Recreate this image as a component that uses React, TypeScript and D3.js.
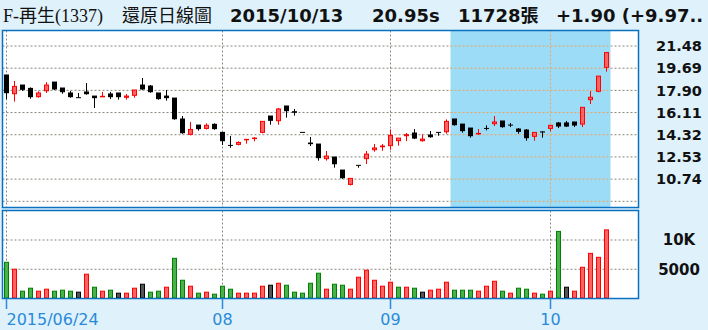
import React from "react";
import * as d3 from "d3";

// ---- data ----
const opens = [19.14,17.55,18.33,18.06,17.31,17.79,18.57,18.09,17.69,17.31,17.77,17.44,17.40,17.61,17.69,17.26,17.42,18.33,18.25,17.69,17.44,17.28,15.59,14.27,15.10,14.75,15.16,14.51,13.46,13.46,13.84,13.95,14.43,15.83,15.37,16.64,16.18,14.51,13.65,13.57,12.31,12.52,11.47,10.23,11.85,12.31,13.03,13.27,13.36,13.76,14.16,14.46,13.76,14.30,14.51,14.48,15.59,15.18,14.86,14.38,14.83,15.13,15.43,15.10,14.78,14.70,14.11,14.55,14.75,15.27,15.27,15.35,15.10,17.07,17.74,19.68];
const highs = [19.14,18.66,18.33,18.14,17.82,18.57,18.57,18.09,17.85,17.69,18.49,17.44,17.77,17.77,17.69,17.61,17.93,18.90,18.33,17.69,17.93,17.28,15.83,15.35,15.10,15.24,15.24,14.51,14.22,13.79,13.95,14.14,15.40,15.83,16.48,16.64,16.40,14.51,14.14,13.57,13.01,12.52,11.47,10.80,11.85,13.01,13.57,13.57,14.75,14.05,14.46,14.78,14.35,14.62,14.51,15.56,15.59,15.18,14.86,14.78,15.08,15.83,15.43,15.27,14.86,14.78,14.51,14.60,15.08,15.35,15.43,15.35,16.53,17.85,19.05,20.95];
const lows = [17.20,16.99,17.85,17.23,17.31,17.69,17.93,17.63,17.31,17.31,17.55,16.48,17.40,17.20,17.15,17.15,17.31,17.93,17.71,17.15,17.07,15.53,14.40,14.27,14.65,14.75,14.73,13.49,13.27,13.46,13.60,13.79,14.43,15.13,15.13,15.70,15.86,14.51,13.41,12.23,12.23,11.66,10.77,10.23,11.66,11.96,12.95,13.03,13.11,13.44,13.81,13.97,13.76,14.08,14.24,14.40,15.05,14.49,14.08,14.30,14.67,15.02,14.89,14.94,14.40,13.84,13.84,14.08,14.59,14.86,14.94,14.94,14.94,16.80,17.74,19.41];
const closes = [17.63,18.22,17.90,17.31,17.69,18.33,17.93,17.71,17.31,17.31,17.55,17.23,17.42,17.31,17.31,17.44,17.93,17.93,17.71,17.15,17.23,15.53,14.40,14.75,14.73,15.08,14.73,13.76,13.46,13.70,13.95,14.05,15.40,15.40,16.40,16.18,16.05,14.51,13.52,12.39,12.60,11.90,10.77,10.80,11.85,12.76,13.25,13.41,14.27,14.05,14.32,13.97,13.97,14.08,14.51,15.40,15.05,14.57,14.16,14.43,14.83,15.35,14.89,15.10,14.51,14.00,14.51,14.46,15.08,14.94,14.94,15.02,16.53,17.34,19.05,20.95];
const volumes = [6190,5000,1250,1760,1250,1590,1250,1420,1250,1080,4150,1930,1250,1420,910,910,1760,2440,1080,1250,1930,6870,3120,2100,910,1080,740,2100,1590,910,910,910,2100,2270,2610,2270,1080,910,2610,4320,1590,2440,2270,1590,3640,4830,3120,2100,2780,1930,1930,1760,1080,1420,1590,2780,1420,1420,1420,1250,2100,2950,1250,910,1760,1590,910,740,1250,11470,1930,1250,5340,7720,7040,11728];
const prevCloseBeforeFirst = 18.0;

const priceGrid = [21.48, 19.69, 17.9, 16.11, 14.32, 12.53, 10.74, 8.95];
const priceLabels = ["21.48", "19.69", "17.90", "16.11", "14.32", "12.53", "10.74"];
const volGrid = [10000, 5000];
const volLabels = ["10K", "5000"];
const dateTickIdx = [0, 27, 48, 68];
const dateTickLabels = ["2015/06/24", "08", "09", "10"];
const shadeFrom = 56;
const shadeTo = 75;

const titleName = "F-再生(1337)";
const titleKind = "還原日線圖";
const titleDate = "2015/10/13";
const titlePrice = "20.95s";
const titleVol = "11728張";
const titleChange = "+1.90 (+9.97..";

// ---- styles ----
const BG = "#dff2fc";
const BORDER = "#0a70c0";
const SHADE = "#9ddcf7";
const GRID = "#86867a";
const GRID_SHADE = "#f0a458";
const UP_FILL = "#ff6464";
const UP_STROKE = "#ff0000";
const VOL_GREEN_FILL = "#4cb04c";
const VOL_GREEN_STROKE = "#008000";
const VOL_BLACK_FILL = "#555555";
const AXIS_BLUE = "#2a8ad8";

export default function App() {
  const W = 708, H = 330;
  const pL = 2.5, pR = 638.5;
  const mTop = 30.5, mBot = 207.5;
  const vTop = 210.5, vBot = 298.5;

  const n = closes.length;
  const x = d3.scaleLinear().domain([0, n - 1]).range([6.5, 6.5 + 8 * (n - 1)]);
  const y = d3.scaleLinear().domain([8.95, 21.48]).range([201.3, 46]);
  const yv = d3.scaleLinear().domain([0, 10000]).range([298.5, 240]);

  const shadeX0 = x(shadeFrom - 0.5);
  const shadeX1 = x(shadeTo + 0.5);

  const dash = "2,2";

  const candles = closes.map((c, i) => {
    const o = opens[i];
    const up = c > o;
    const cx = x(i);
    const top = y(Math.max(o, c));
    const bot = y(Math.min(o, c));
    const h = Math.max(bot - top, 1);
    const col = up ? UP_STROKE : "#000";
    return (
      <g key={"c" + i}>
        <line x1={cx} x2={cx} y1={y(highs[i])} y2={y(lows[i])} stroke={col} strokeWidth={1} />
        {up ? (
          <rect x={cx - 2} y={top} width={4} height={Math.max(h - 1, 0.5)} fill={UP_FILL} stroke={UP_STROKE} strokeWidth={1} />
        ) : (
          <rect x={cx - 2.5} y={top - 0.5} width={5} height={h} fill="#000" />
        )}
      </g>
    );
  });

  const vols = volumes.map((v, i) => {
    const prev = i === 0 ? prevCloseBeforeFirst : closes[i - 1];
    const d = closes[i] - prev;
    const dir = Math.abs(d) < 1e-6 ? 0 : d > 0 ? 1 : -1;
    const fill = dir > 0 ? UP_FILL : dir < 0 ? VOL_GREEN_FILL : VOL_BLACK_FILL;
    const stroke = dir > 0 ? UP_STROKE : dir < 0 ? VOL_GREEN_STROKE : "#000";
    const cx = x(i);
    const top = yv(v);
    return (
      <rect key={"v" + i} x={cx - 2} y={top} width={4} height={vBot - 0.5 - top} fill={fill} stroke={stroke} strokeWidth={1} />
    );
  });

  return (
    <svg width={W} height={H} style={{ position: "absolute", left: 0, top: 0, display: "block" }}>
      <rect x={0} y={0} width={W} height={H} fill={BG} />
      {/* title */}
      <text x={3} y={22} fontFamily="'Liberation Serif','Noto Sans CJK TC',serif" fontSize={18} fill="#111">{titleName}</text>
      <text x={122} y={22} fontFamily="'Noto Sans CJK TC',sans-serif" fontSize={18} fill="#111">{titleKind}</text>
      <g fontFamily="'DejaVu Sans','Noto Sans CJK TC',sans-serif" fontWeight="bold" fontSize={18} fill="#111">
        <text x={230} y={22}>{titleDate}</text>
        <text x={372} y={22}>{titlePrice}</text>
        <text x={458} y={22}>{titleVol}</text>
        <text x={556} y={22}>{titleChange}</text>
      </g>

      {/* main panel */}
      <rect x={pL} y={mTop} width={pR - pL} height={mBot - mTop} fill="#fff" />
      {priceGrid.map((v, i) => (
        <line key={"pg" + i} x1={pL} x2={pR} y1={y(v)} y2={y(v)} stroke={GRID} strokeWidth={1} strokeDasharray={dash} />
      ))}
      {dateTickIdx.map((t, i) => (
        <line key={"pv" + i} x1={x(t)} x2={x(t)} y1={mTop} y2={mBot} stroke={GRID} strokeWidth={1} strokeDasharray={dash} />
      ))}
      <rect x={shadeX0} y={mTop} width={shadeX1 - shadeX0} height={mBot - mTop} fill={SHADE} />
      {priceGrid.map((v, i) => (
        <line key={"pgs" + i} x1={shadeX0} x2={shadeX1} y1={y(v)} y2={y(v)} stroke={GRID_SHADE} strokeWidth={1} strokeDasharray={dash} />
      ))}
      {dateTickIdx.filter((t) => t >= shadeFrom && t <= shadeTo).map((t, i) => (
        <line key={"pvs" + i} x1={x(t)} x2={x(t)} y1={mTop} y2={mBot} stroke={GRID_SHADE} strokeWidth={1} strokeDasharray={dash} />
      ))}
      {candles}
      <rect x={pL} y={mTop} width={pR - pL} height={mBot - mTop} fill="none" stroke={BORDER} strokeWidth={1.5} />

      {/* price labels */}
      <g fontFamily="'DejaVu Sans',sans-serif" fontWeight="bold" fontSize={14.5} fill="#111" textAnchor="middle">
        {priceLabels.map((l, i) => (
          <text key={"pl" + i} x={679} y={y(priceGrid[i])} dy="0.36em">{l}</text>
        ))}
      </g>

      {/* volume panel */}
      <rect x={pL} y={vTop} width={pR - pL} height={vBot - vTop} fill="#fff" />
      {volGrid.map((v, i) => (
        <line key={"vg" + i} x1={pL} x2={pR} y1={yv(v)} y2={yv(v)} stroke={GRID} strokeWidth={1} strokeDasharray={dash} />
      ))}
      {dateTickIdx.map((t, i) => (
        <line key={"vv" + i} x1={x(t)} x2={x(t)} y1={vTop} y2={vBot} stroke={GRID} strokeWidth={1} strokeDasharray={dash} />
      ))}
      {vols}
      <rect x={pL} y={vTop} width={pR - pL} height={vBot - vTop} fill="none" stroke={BORDER} strokeWidth={1.5} />
      <g fontFamily="'DejaVu Sans',sans-serif" fontWeight="bold" fontSize={15} fill="#111" textAnchor="middle">
        {volLabels.map((l, i) => (
          <text key={"vl" + i} x={679} y={yv(volGrid[i])} dy="0.36em">{l}</text>
        ))}
      </g>

      {/* date axis */}
      {dateTickIdx.map((t, i) => (
        <g key={"dt" + i}>
          <line x1={x(t)} x2={x(t)} y1={vBot} y2={309} stroke={AXIS_BLUE} strokeWidth={1.5} />
          <text x={x(t)} y={325} textAnchor={i === 0 ? "start" : "middle"} fontFamily="'DejaVu Sans',sans-serif" fontSize={16} fill={AXIS_BLUE}>
            {dateTickLabels[i]}
          </text>
        </g>
      ))}
    </svg>
  );
}
